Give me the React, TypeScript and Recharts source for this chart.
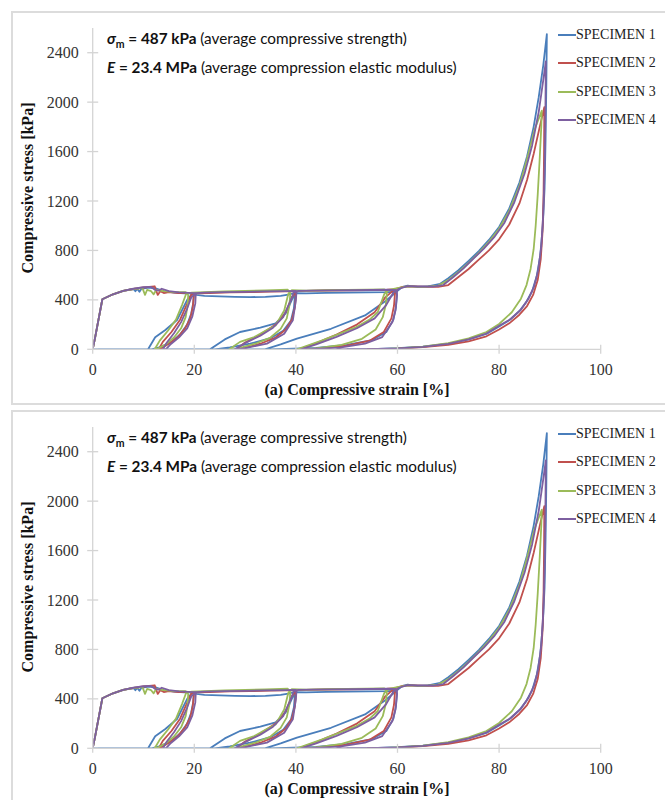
import React from "react";
import { LineChart, Line, XAxis, YAxis } from "recharts";

// ---- data (strain %, stress kPa) ----
const s1Strain = [0,0.5,1.9,4,6,8,8.4,8.8,9.2,9.6,11,12.5,14,16,18,19.6,
  19.9,19.8,19.4,18.6,17.2,15.5,13.5,11.6,0,
  10.9,12.3,14.3,16.6,18.6,19.6,20.4,
  22,25,28,31,34,37,38.5,39.6,
  39.8,39.6,39.0,37.5,35,31,27,24,0,
  23.1,26,29,33,36,38,39.2,39.9,
  42,46,50,54,58,59.6,
  59.9,59.7,59.2,57.8,55,50,44,38,35,0,
  33.9,37,40.2,46.9,53.6,57.8,59.9,
  61,62,64,66,68.4,70,72,74,76,78,80,82,84,85.5,86.8,87.8,88.7,89.4,
  89.3,89.15,88.95,88.6,88.1,87.4,86.5,85.3,84,82,80,77.5,74,70,65,60,55,50];
const s1Stress = [0,100,405,445,472,488,470,488,465,490,500,492,470,458,452,455,
  440,380,290,200,120,60,20,0,0,
  0,97,156,237,400,450,440,
  432,428,425,422,425,432,442,455,
  430,330,230,150,90,45,15,0,0,
  0,80,140,175,210,290,400,455,
  452,456,458,460,462,465,
  440,340,240,140,75,35,12,3,0,0,
  0,40,86,166,274,395,470,
  505,515,505,510,530,575,640,715,795,885,990,1140,1350,1560,1800,2040,2300,2550,
  2150,1700,1300,1000,760,590,470,380,310,235,185,125,80,45,22,9,2,0];

const s2Strain = [0,0.5,1.9,4,6,8,10,12.2,12.8,13.3,14,15,17,19.7,
  19.9,19.7,19.2,18.2,16.8,15,13.6,13,
  13.8,15.5,17.2,18.6,19.5,20.5,
  23,27,31,35,38,39.8,
  40,39.8,39.2,38,36,33,30,28.3,
  30,33,36,38,39.2,40.2,
  42,46,50,54,58,59.3,
  59.5,59.3,58.8,57.3,54.5,50,45,41.5,
  40.6,44,48,52,55.5,57.6,59.4,
  61,63,66,68,70,72,74,76,78,80,82,84,85.5,86.8,88,88.9,
  88.85,88.75,88.55,88.2,87.6,86.7,85.5,84,82,80,77.5,74,70,65,60,54];
const s2Stress = [0,100,405,445,472,488,500,510,440,470,455,462,455,455,
  430,340,250,170,100,45,10,0,
  60,140,240,370,450,452,
  455,460,462,466,468,470,
  440,340,240,160,95,45,12,0,
  55,120,200,300,420,470,
  472,476,478,480,482,485,
  450,350,250,140,70,30,8,0,
  0,50,120,200,300,420,485,
  505,510,505,505,520,585,650,725,800,890,1010,1180,1370,1580,1800,1960,
  1600,1250,950,730,560,440,350,280,210,160,105,65,36,17,6,0];

const s3Strain = [0,0.5,1.9,4,6,8,9.8,10.3,10.7,11.5,12,12.5,14,16,18.3,
  18.8,18.7,18.3,17.4,16,14.4,13,12.5,
  12.2,13.2,14.8,16.4,17.6,18.4,19.5,
  22,26,30,34,37,38.4,
  38.9,38.7,38.2,37,35,32,29,27.8,
  26.9,29,31.8,34,36,37.7,38.5,39.2,
  42,46,50,54,57.4,
  57.9,57.7,57.1,55.7,53,49,44,40.8,
  40.2,45.2,48.5,51.9,54.5,56.1,57.4,58.3,
  60,62,65,68,70,72,74,76,78,80,82,84,85.5,87,88.4,
  88.3,88.0,87.6,87.2,86.8,86.2,85.4,84.3,82.5,80,77.5,74,70,65,60,56];
const s3Stress = [0,100,405,445,472,488,495,440,480,470,445,480,470,462,462,
  440,360,260,170,95,40,10,0,
  0,70,150,240,360,450,458,
  462,468,472,476,480,482,
  450,350,250,165,95,45,12,0,
  0,60,99,150,193,314,448,478,
  474,478,480,482,485,
  455,360,260,160,85,35,8,0,
  0,72,125,180,240,300,448,480,
  495,510,505,515,560,625,700,780,870,975,1120,1320,1540,1780,1930,
  1800,1550,1250,1000,810,650,520,410,300,205,140,88,50,22,8,0];

const s4Strain = [0,0.5,1.9,4,6,8,10,11.5,12.3,13,13.6,15,17,19.8,20.3,
  20.2,19.6,18.6,17,15.4,14.4,
  13.8,14.6,16,17.4,18.6,19.4,20.3,
  22,26,30,34,38,40,
  40.1,40,39.4,37.7,34.3,30,28.5,
  28,30,33,35.5,37.5,38.8,39.6,40.5,
  43,47,51,55,58,59.9,
  59.9,59.6,59,57,53.6,48.6,41.9,
  41,44,48,52,55.5,57.8,59.2,60.3,
  62,64,67,69,71,73,75,77,79,81,83,85,86.5,87.8,88.7,89.2,
  89.1,88.95,88.7,88.3,87.7,86.9,85.8,84.3,82.3,80,77.5,74,70,65,60,54,48];
const s4Stress = [0,100,405,445,472,490,502,505,480,475,490,470,460,455,455,
  372,264,170,97,43,0,
  0,55,130,220,330,420,455,
  458,462,465,468,470,472,
  462,395,234,126,46,10,0,
  0,50,110,175,260,380,460,472,
  474,477,478,480,482,478,
  440,314,220,99,46,13,0,
  0,40,100,170,250,360,460,490,
  512,508,508,520,585,655,735,815,905,1020,1190,1420,1650,1920,2180,2330,
  1850,1450,1100,830,640,510,410,320,245,190,128,80,44,20,7,2,0];

const seriesNames = ["SPECIMEN 1", "SPECIMEN 2", "SPECIMEN 3", "SPECIMEN 4"];
const seriesColors = ["#4a7ebb", "#c0504d", "#9bbb59", "#7d5fa0"];
const xTicks = [0, 20, 40, 60, 80, 100];
const yTicks = [0, 400, 800, 1200, 1600, 2000, 2400];

const strainSets = [s1Strain, s2Strain, s3Strain, s4Strain];
const stressSets = [s1Stress, s2Stress, s3Stress, s4Stress];
const seriesData = strainSets.map((xs, i) =>
  xs.map((x, j) => ({ x, y: stressSets[i][j] }))
);

// ---- layout ----
const W = 665;
const H = 400;
const PLOT_LEFT = 92.7;
const PLOT_RIGHT = 600.7;
const PLOT_TOP = 28;
const PLOT_BOTTOM = 349.3;
const AXIS_COLOR = "#d4d4d4";
const serif = "'Liberation Serif', 'Times New Roman', serif";

const YTick = (props: any) => {
  const { y, payload } = props;
  return (
    <g>
      <line x1={PLOT_LEFT - 5.5} x2={PLOT_LEFT + 5.5} y1={y} y2={y} stroke={AXIS_COLOR} strokeWidth={1.3} />
      <text x={PLOT_LEFT - 14} y={y} dy="0.35em" textAnchor="end" fontFamily={serif} fontSize={16} fill="#333">
        {payload.value}
      </text>
    </g>
  );
};

const XTick = (props: any) => {
  const { x, payload } = props;
  return (
    <g>
      <line x1={x} x2={x} y1={PLOT_BOTTOM - 4.5} y2={PLOT_BOTTOM + 4.5} stroke={AXIS_COLOR} strokeWidth={1.3} />
      <text x={x} y={PLOT_BOTTOM + 20} dy="0.35em" textAnchor="middle" fontFamily={serif} fontSize={16} fill="#333">
        {payload.value}
      </text>
    </g>
  );
};

function Panel({ top }: { top: number }) {
  return (
    <div style={{ position: "absolute", left: 0, top, width: W, height: H }}>
      <div
        style={{
          position: "absolute",
          left: 11,
          top: 11,
          width: 700,
          height: 394,
          border: "2px solid #dcdcdc",
          boxSizing: "border-box",
        }}
      />
      <div style={{ position: "absolute", left: 0, top: 0 }}>
        <LineChart
          width={W}
          height={H}
          margin={{ top: PLOT_TOP, right: W - PLOT_RIGHT, bottom: H - PLOT_BOTTOM - 30, left: 0 }}
        >
          <XAxis
            type="number"
            dataKey="x"
            domain={[0, 100]}
            ticks={xTicks}
            height={30}
            axisLine={{ stroke: AXIS_COLOR, strokeWidth: 1.3 }}
            tickLine={false}
            tick={<XTick />}
            allowDataOverflow
          />
          <YAxis
            type="number"
            dataKey="y"
            domain={[0, 2600]}
            ticks={yTicks}
            width={PLOT_LEFT}
            axisLine={{ stroke: AXIS_COLOR, strokeWidth: 1.3 }}
            tickLine={false}
            tick={<YTick />}
            allowDataOverflow
          />
          {seriesData.map((d, i) => (
            <Line
              key={seriesNames[i]}
              data={d}
              dataKey="y"
              name={seriesNames[i]}
              type="linear"
              stroke={seriesColors[i]}
              strokeWidth={1.8}
              strokeLinejoin="round"
              dot={false}
              activeDot={false}
              isAnimationActive={false}
            />
          ))}
        </LineChart>
      </div>
      {/* annotation */}
      <div
        style={{
          position: "absolute",
          left: 107,
          top: 27,
          fontFamily: "Lato, 'Open Sans', sans-serif",
          fontSize: 15.3,
          lineHeight: "23px",
          color: "#111",
          whiteSpace: "nowrap",
        }}
      >
        <div>
          <b>
            <i>σ</i>
            <sub style={{ fontSize: 10.5 }}>m</sub> = 487 kPa
          </b>{" "}
          (average compressive strength)
        </div>
        <div>
          <b>
            <i>E</i> = 23.4 MPa
          </b>{" "}
          (average compression elastic modulus)
        </div>
      </div>
      {/* legend */}
      {seriesNames.map((n, i) => (
        <div key={n} style={{ position: "absolute", left: 558, top: 35 + i * 28.3 - 9, height: 18, whiteSpace: "nowrap" }}>
          <div style={{ position: "absolute", left: 0, top: 8, width: 18, height: 2, background: seriesColors[i] }} />
          <div style={{ position: "absolute", left: 18, top: 0, fontFamily: serif, fontSize: 14, lineHeight: "18px", color: "#222" }}>
            {n}
          </div>
        </div>
      ))}
      {/* axis titles */}
      <div
        style={{
          position: "absolute",
          left: 28,
          top: 188,
          transform: "translate(-50%, -50%) rotate(-90deg)",
          fontFamily: serif,
          fontWeight: "bold",
          fontSize: 16,
          whiteSpace: "nowrap",
          color: "#111",
        }}
      >
        Compressive stress [kPa]
      </div>
      <div
        style={{
          position: "absolute",
          left: 357,
          top: 390,
          transform: "translate(-50%, -50%)",
          fontFamily: serif,
          fontWeight: "bold",
          fontSize: 16,
          whiteSpace: "nowrap",
          color: "#111",
        }}
      >
        (a) Compressive strain [%]
      </div>
    </div>
  );
}

export default function App() {
  return (
    <div
      style={{
        position: "absolute",
        left: 0,
        top: 0,
        width: W,
        height: 800,
        overflow: "hidden",
        background: "#fff",
      }}
    >
      <Panel top={0} />
      <Panel top={399} />
    </div>
  );
}
